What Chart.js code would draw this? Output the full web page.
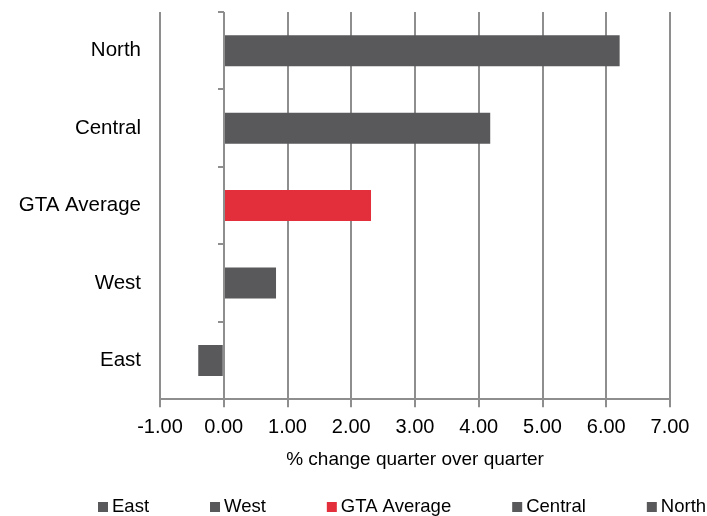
<!DOCTYPE html>
<html>
<head>
<meta charset="utf-8">
<script src="https://cdn.jsdelivr.net/npm/chart.js@4/dist/chart.umd.min.js"></script>
<style>
  html, body { margin: 0; padding: 0; background: #ffffff; }
  #wrap { width: 707px; height: 516px; position: relative; }
</style>
</head>
<body>
<div id="wrap"><canvas id="chart"></canvas></div>
<script>
// Regions, top to bottom on the category axis
const categories = ['North', 'Central', 'GTA Average', 'West', 'East'];
// Quarter-over-quarter % change for each region (same order as categories)
const changePct = [6.21, 4.18, 2.31, 0.82, -0.40];
// Legend / series order
const seriesNames = ['East', 'West', 'GTA Average', 'Central', 'North'];
// Axis range and ticks
const xTicks = [-1, 0, 1, 2, 3, 4, 5, 6, 7];

const GREY = '#59595b';
const RED = '#e32f3b';
const GRID = '#8e8e8e';
const FONT = '"Liberation Sans", Arial, sans-serif';

// one dataset per region, holding only that region's value so each has its own legend entry
const datasets = seriesNames.map(name => {
  const idx = categories.indexOf(name);
  return {
    label: name,
    data: categories.map((c, i) => (i === idx ? changePct[i] : null)),
    backgroundColor: name === 'GTA Average' ? RED : GREY,
    borderWidth: 0,
    barPercentage: 0.4,
    categoryPercentage: 1.0
  };
});

// vertical axis line at zero with small category tick marks on its left
const zeroAxis = {
  id: 'zeroAxis',
  afterDatasetsDraw(chart) {
    const { ctx, scales: { x }, chartArea } = chart;
    const x0 = Math.round(x.getPixelForValue(0));
    ctx.save();
    ctx.strokeStyle = GRID;
    ctx.lineWidth = 2;
    ctx.beginPath();
    ctx.moveTo(x0, chartArea.top);
    ctx.lineTo(x0, chartArea.bottom);
    const n = categories.length;
    const step = (chartArea.bottom - chartArea.top) / n;
    for (let i = 0; i <= n; i++) {
      const yy = Math.round(chartArea.top + i * step);
      ctx.moveTo(x0 - 6, yy);
      ctx.lineTo(x0, yy);
    }
    ctx.stroke();
    ctx.restore();
  }
};

// legend row along the bottom, evenly gapped items
const bottomLegend = {
  id: 'bottomLegend',
  afterDraw(chart) {
    const { ctx } = chart;
    ctx.save();
    ctx.font = '18.5px ' + FONT;
    ctx.textBaseline = 'middle';
    ctx.textAlign = 'left';
    let cx = 98;
    const cy = 507;
    chart.data.datasets.forEach(ds => {
      ctx.fillStyle = ds.backgroundColor;
      ctx.fillRect(cx, cy - 5, 10, 10);
      ctx.fillStyle = '#000000';
      ctx.fillText(ds.label, cx + 14, cy);
      cx += 14 + ctx.measureText(ds.label).width + 61;
    });
    ctx.restore();
  }
};

new Chart(document.getElementById('chart'), {
  type: 'bar',
  data: { labels: categories, datasets },
  plugins: [zeroAxis, bottomLegend],
  options: {
    indexAxis: 'y',
    responsive: true,
    maintainAspectRatio: false,
    animation: false,
    layout: { padding: { top: 12, right: 37, bottom: 42, left: 0 } },
    plugins: {
      legend: { display: false },
      tooltip: { enabled: false }
    },
    scales: {
      x: {
        type: 'linear',
        stacked: true,
        min: xTicks[0],
        max: xTicks[xTicks.length - 1],
        afterBuildTicks(scale) {
          scale.ticks = xTicks.map(v => ({ value: v }));
        },
        grid: {
          color: GRID,
          lineWidth: 2,
          drawTicks: true,
          tickLength: 8,
          tickColor: GRID,
          tickWidth: 2
        },
        border: { display: true, color: GRID, width: 2 },
        ticks: {
          color: '#000000',
          font: { family: FONT, size: 20 },
          padding: 8,
          maxRotation: 0,
          callback: v => Number(v).toFixed(2)
        },
        title: {
          display: true,
          text: '% change quarter over quarter',
          color: '#000000',
          font: { family: FONT, size: 19 },
          padding: { top: 1, bottom: 3 }
        }
      },
      y: {
        type: 'category',
        stacked: true,
        grid: { display: false, drawTicks: false },
        border: { display: false },
        afterFit(scale) {
          scale.width = 160;
          scale.paddingTop = 0;
          scale.paddingBottom = 0;
        },
        ticks: {
          color: '#000000',
          font: { family: FONT, size: 20.5 },
          padding: 19
        }
      }
    }
  }
});
</script>
</body>
</html>
